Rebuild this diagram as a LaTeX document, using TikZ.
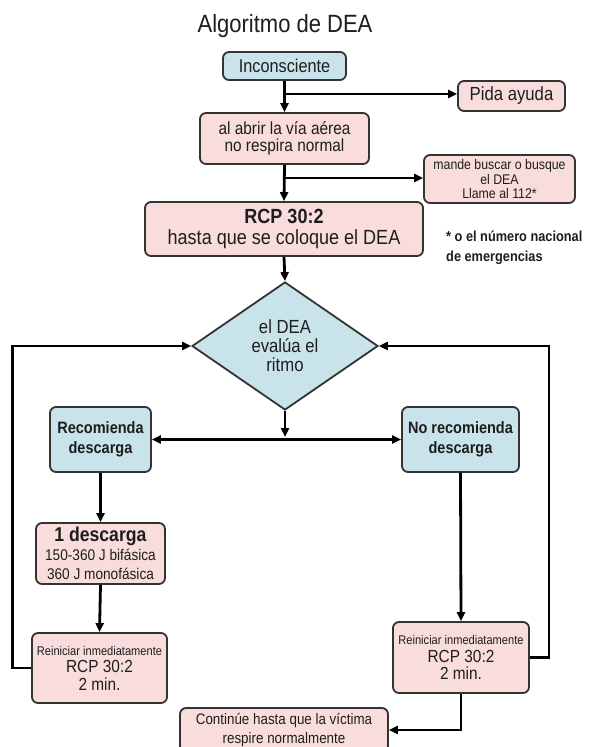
\documentclass[tikz,border=0pt]{standalone}
\usepackage{fontspec}
\setmainfont{Liberation Sans}[FakeStretch=0.88]
\usetikzlibrary{shapes.geometric,arrows.meta,calc}
\definecolor{pinkfill}{HTML}{F9DCDC}
\definecolor{bluefill}{HTML}{C8E3E9}
\definecolor{edgecol}{HTML}{333333}
\definecolor{txt}{HTML}{1E1E1E}
\newcommand{\fs}[2]{\fontsize{#1}{#2}\selectfont}
\tikzset{
  boxbase/.style={rectangle, rounded corners=6pt, draw=edgecol, line width=1.8pt, align=center, inner sep=0pt, text=txt},
  pinkbox/.style={boxbase, fill=pinkfill},
  bluebox/.style={boxbase, fill=bluefill},
  conn/.style={line width=2.8pt, draw=black},
  arr/.style={conn, -{Triangle[length=9pt,width=8pt]}},
  arrtwo/.style={conn, {Triangle[length=9pt,width=8pt]}-{Triangle[length=9pt,width=8pt]}}
}
\begin{document}
\begin{tikzpicture}[x=1pt,y=-1pt]
\clip (0,0) rectangle (591,747);
\fill[white] (0,0) rectangle (591,747);
% title
\node[text=txt, inner sep=0pt, font=\fs{25}{28}] (title) at (285,26) {Algoritmo de DEA};
% top chain
\node[bluebox, minimum width=123pt, minimum height=28pt, font=\fs{18.5}{20}] (inc) at (284.5,66) {Inconsciente};
\node[pinkbox, minimum width=107pt, minimum height=30pt, font=\fs{19}{21}] (pida) at (511.5,96) {Pida ayuda};
\node[pinkbox, minimum width=169pt, minimum height=51pt, font=\fs{17.5}{17.5}] (abrir) at (284.5,138.5) {al abrir la vía aérea\\no respira normal};
\node[pinkbox, minimum width=151pt, minimum height=48pt, font=\fs{14}{14.2}] (mande) at (499.5,179) {mande buscar o busque\\el DEA\\Llame al 112*};
\node[pinkbox, minimum width=278pt, minimum height=54pt, font=\fs{20.5}{21}] (rcp) at (284,229) {\textbf{RCP 30:2}\\hasta que se coloque el DEA};
\node[anchor=west, align=left, inner sep=0pt, text=txt, font=\fs{14.5}{20}\bfseries] (nota) at (446,248) {* o el número nacional\\de emergencias};
% decision
\node[diamond, draw=edgecol, line width=1.8pt, fill=bluefill, minimum width=186pt, minimum height=128pt, inner sep=0pt, align=center, text=txt, font=\fs{19}{19}] (dea) at (285,346) {el DEA\\evalúa el\\ritmo};
% branches
\node[bluebox, minimum width=101pt, minimum height=65pt, font=\fs{16.5}{20}\bfseries] (reco) at (100.5,439.5) {Recomienda\\descarga};
\node[bluebox, minimum width=117pt, minimum height=65pt, font=\fs{16.5}{20}\bfseries] (noreco) at (460.5,439.5) {No recomienda\\descarga};
\node[pinkbox, minimum width=129pt, minimum height=61pt, font=\fs{15.5}{19}] (desc) at (100.5,553.5) {\fs{20}{20}\textbf{1 descarga}\\150-360 J bifásica\\360 J monofásica};
\node[pinkbox, minimum width=135pt, minimum height=70pt, font=\fs{17.5}{17.5}] (reiL) at (99.5,668) {\fs{12.6}{14}Reiniciar inmediatamente\\RCP 30:2\\2 min.};
\node[pinkbox, minimum width=136pt, minimum height=71pt, font=\fs{17.5}{17.5}] (reiR) at (461,657.5) {\fs{12.6}{14}Reiniciar inmediatamente\\RCP 30:2\\2 min.};
\node[pinkbox, minimum width=208pt, minimum height=44pt, font=\fs{15.2}{19}] (cont) at (284,730) {Continúe hasta que la víctima\\respire normalmente};
% connectors
\coordinate (b1) at (285,94);
\coordinate (b2) at (285,178);
\coordinate (j) at (285,437);
\draw[arr] (inc.south) -- (abrir.north);
\draw[arr] (b1) -- (b1 -| pida.west);
\draw[arr] (abrir.south) -- (rcp.north);
\draw[arr] (b2) -- (b2 -| mande.west);
\draw[arr] (rcp.south) -- (dea.north);
\draw[arr] (dea.south) -- (j);
\draw[arrtwo] (reco.east) -- (noreco.west);
\draw[arr] (reco.south) -- (desc.north);
\draw[arr] (desc.south) -- (reiL.north);
\draw[arr] (noreco.south) -- (reiR.north);
\draw[arr] (reiL.west) -- ++(-19,0) |- (dea.west);
\draw[arr] (reiR.east) -- ++(19,0) |- (dea.east);
\draw[arr] (reiR.south) |- (cont.east);
\end{tikzpicture}
\end{document}
